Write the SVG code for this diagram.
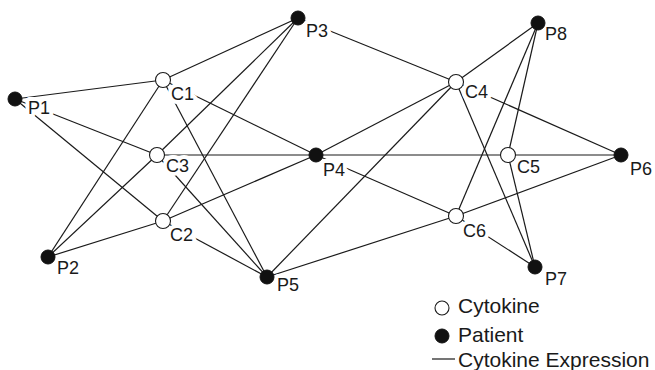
<svg xmlns="http://www.w3.org/2000/svg" width="655" height="370" viewBox="0 0 655 370">
  <style>
    .edge { stroke: #1a1a1a; stroke-width: 1.2; fill: none; }
    .cyt { fill: #fff; stroke: #1a1a1a; stroke-width: 1.1; }
    .pat { fill: #111; stroke: #111; stroke-width: 1; }
    .lbl { font-family: "Liberation Sans", Arial, sans-serif; font-size: 18px; fill: #1a1a1a;
           stroke: #fff; stroke-width: 8; stroke-linejoin: round; paint-order: stroke; }
    .leg { font-family: "Liberation Sans", Arial, sans-serif; font-size: 21px; fill: #1a1a1a; }
  </style>
  <rect width="655" height="370" fill="#fff"/>

  <!-- cytokine expression links (patient to cytokine) -->
  <g id="connectors">
    <line class="edge" x1="15" y1="99" x2="163" y2="80"/>
    <line class="edge" x1="15" y1="99" x2="157" y2="155"/>
    <line class="edge" x1="15" y1="99" x2="163" y2="221"/>

    <line class="edge" x1="48" y1="257" x2="163" y2="80"/>
    <line class="edge" x1="48" y1="257" x2="157" y2="155"/>
    <line class="edge" x1="48" y1="257" x2="163" y2="221"/>

    <line class="edge" x1="298" y1="18" x2="163" y2="80"/>
    <line class="edge" x1="298" y1="18" x2="157" y2="155"/>
    <line class="edge" x1="298" y1="18" x2="163" y2="221"/>
    <line class="edge" x1="298" y1="18" x2="456" y2="82"/>

    <line class="edge" x1="316" y1="155" x2="163" y2="80"/>
    <line class="edge" x1="316" y1="155" x2="157" y2="155"/>
    <line class="edge" x1="316" y1="155" x2="163" y2="221"/>
    <line class="edge" x1="316" y1="155" x2="456" y2="82"/>
    <line class="edge" x1="316" y1="155" x2="508" y2="155"/>
    <line class="edge" x1="316" y1="155" x2="456" y2="216"/>

    <line class="edge" x1="267" y1="277" x2="163" y2="80"/>
    <line class="edge" x1="267" y1="277" x2="157" y2="155"/>
    <line class="edge" x1="267" y1="277" x2="163" y2="221"/>
    <line class="edge" x1="267" y1="277" x2="456" y2="82"/>
    <line class="edge" x1="267" y1="277" x2="456" y2="216"/>

    <line class="edge" x1="621" y1="155" x2="456" y2="82"/>
    <line class="edge" x1="621" y1="155" x2="508" y2="155"/>
    <line class="edge" x1="621" y1="155" x2="456" y2="216"/>

    <line class="edge" x1="535" y1="267" x2="456" y2="82"/>
    <line class="edge" x1="535" y1="267" x2="508" y2="155"/>
    <line class="edge" x1="535" y1="267" x2="456" y2="216"/>

    <line class="edge" x1="538" y1="23" x2="456" y2="82"/>
    <line class="edge" x1="538" y1="23" x2="508" y2="155"/>
    <line class="edge" x1="538" y1="23" x2="456" y2="216"/>
  </g>

  <!-- cytokines -->
  <g id="C1"><text class="lbl" x="171" y="100">C1</text><circle class="cyt" cx="163" cy="80" r="7.5"/></g>
  <g id="C2"><text class="lbl" x="170" y="241">C2</text><circle class="cyt" cx="163" cy="221" r="7.5"/></g>
  <g id="C3"><text class="lbl" x="166" y="172">C3</text><circle class="cyt" cx="157" cy="155" r="7.5"/></g>
  <g id="C4"><text class="lbl" x="465" y="98">C4</text><circle class="cyt" cx="456" cy="82" r="7.5"/></g>
  <g id="C5"><text class="lbl" x="517" y="173">C5</text><circle class="cyt" cx="508" cy="155" r="7.5"/></g>
  <g id="C6"><text class="lbl" x="463" y="237">C6</text><circle class="cyt" cx="456" cy="216" r="7.5"/></g>

  <!-- patients -->
  <g id="P1"><text class="lbl" x="28" y="114">P1</text><circle class="pat" cx="15" cy="99" r="7"/></g>
  <g id="P2"><text class="lbl" x="57" y="274">P2</text><circle class="pat" cx="48" cy="257" r="7"/></g>
  <g id="P3"><text class="lbl" x="306" y="37">P3</text><circle class="pat" cx="298" cy="18" r="7"/></g>
  <g id="P4"><text class="lbl" x="323" y="176">P4</text><circle class="pat" cx="316" cy="155" r="7"/></g>
  <g id="P5"><text class="lbl" x="277" y="291">P5</text><circle class="pat" cx="267" cy="277" r="7"/></g>
  <g id="P6"><text class="lbl" x="630" y="175">P6</text><circle class="pat" cx="621" cy="155" r="7"/></g>
  <g id="P7"><text class="lbl" x="545" y="285">P7</text><circle class="pat" cx="535" cy="267" r="7"/></g>
  <g id="P8"><text class="lbl" x="545" y="40">P8</text><circle class="pat" cx="538" cy="23" r="7"/></g>

  <!-- legend -->
  <g id="legend">
    <circle class="cyt" cx="442" cy="308" r="7"/>
    <text class="leg" x="458" y="313">Cytokine</text>
    <circle class="pat" cx="442" cy="336" r="7"/>
    <text class="leg" x="458" y="342">Patient</text>
    <line class="edge" x1="432" y1="359" x2="455" y2="359"/>
    <text class="leg" x="458" y="367">Cytokine Expression</text>
  </g>
</svg>
